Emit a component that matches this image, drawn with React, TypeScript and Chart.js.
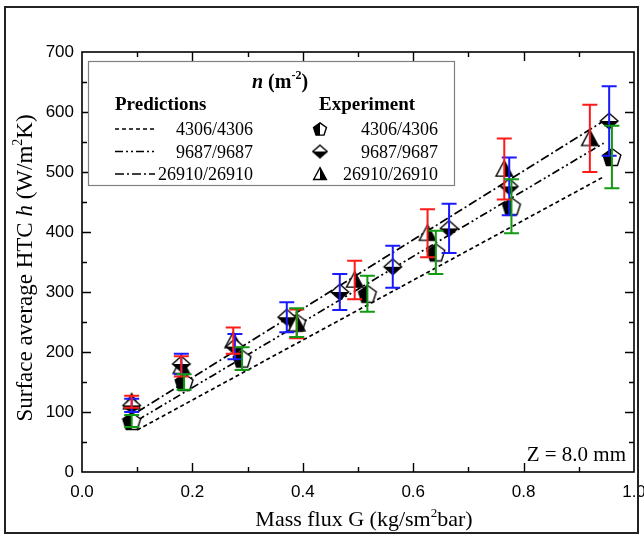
import React, { useEffect, useRef } from 'react';
import { Chart, registerables } from 'chart.js';

Chart.register(...registerables);

// ---- Data ----
const G_4306 = [0.09, 0.185, 0.29, 0.389, 0.517, 0.641, 0.778, 0.96];
const H_4306 = [85, 150, 189, 249, 297, 366, 443, 525];
const E_4306 = [10, 13, 19, 24, 30, 36, 45, 52];

const G_9687 = [0.09, 0.18, 0.277, 0.371, 0.467, 0.563, 0.665, 0.774, 0.955];
const H_9687 = [111, 180, 209, 258, 300, 342, 406, 476, 585];
const E_9687 = [11, 17, 21, 25, 30, 35, 41, 48, 58];

const G_26910 = [0.09, 0.18, 0.274, 0.389, 0.494, 0.626, 0.765, 0.92];
const H_26910 = [117, 176, 219, 247, 320, 398, 505, 556];
const E_26910 = [10, 17, 22, 24, 32, 40, 51, 56];

const PRED_G = [0.1, 0.945];
const PRED_4306 = [70, 492];
const PRED_9687 = [86, 548];
const PRED_26910 = [100, 585];

const SERIES_LABELS = ['4306/4306', '9687/9687', '26910/26910'];
const X_TITLE = ['Mass flux G (kg/sm', '2', 'bar)'];
const Y_TITLE = ['Surface average HTC ', 'h', ' (W/m', '2', 'K)'];
const ANNOTATION = 'Z = 8.0 mm';

const SERIF = '"Liberation Serif", "Times New Roman", "DejaVu Serif", serif';
const SANS = '"Liberation Sans", Arial, "DejaVu Sans", sans-serif';

const RED = '#ff1a1a';
const BLUE = '#1a1aff';
const GREEN = '#129a12';

const DASH_4306 = [4, 3];
const DASH_9687 = [8, 3, 2, 3, 2, 3];
const DASH_26910 = [9, 3, 2, 3];

function pts(xs: number[], ys: number[]) {
  return xs.map((x, i) => ({ x, y: ys[i] }));
}

function makeMarker(kind: string, k = 1): HTMLCanvasElement {
  const s = 24;
  const c = document.createElement('canvas');
  c.width = s;
  c.height = s;
  const ctx = c.getContext('2d')!;
  const cx = s / 2;
  const cy = s / 2;
  let p: number[][] = [];
  if (kind === 'pentagon') {
    const r = 8.5 * k;
    for (let i = 0; i < 5; i++) {
      const a = (-90 + 72 * i) * Math.PI / 180;
      p.push([cx + r * Math.cos(a), cy + 0.8 * k + r * Math.sin(a)]);
    }
  } else if (kind === 'diamond') {
    p = [[cx, cy - 7 * k], [cx + 8 * k, cy], [cx, cy + 7 * k], [cx - 8 * k, cy]];
  } else {
    p = [[cx, cy - 7.5 * k], [cx + 7.5 * k, cy + 6.5 * k], [cx - 7.5 * k, cy + 6.5 * k]];
  }
  const path = () => {
    ctx.beginPath();
    p.forEach((q, i) => (i ? ctx.lineTo(q[0], q[1]) : ctx.moveTo(q[0], q[1])));
    ctx.closePath();
  };
  path();
  ctx.fillStyle = '#fff';
  ctx.fill();
  ctx.save();
  ctx.beginPath();
  if (kind === 'pentagon') ctx.rect(0, 0, cx, s);
  else if (kind === 'diamond') ctx.rect(0, cy, s, s);
  else ctx.rect(cx, 0, s, s);
  ctx.clip();
  path();
  ctx.fillStyle = '#000';
  ctx.fill();
  ctx.restore();
  path();
  ctx.lineWidth = 1.4;
  ctx.strokeStyle = '#000';
  ctx.lineJoin = 'miter';
  ctx.stroke();
  return c;
}

type Seg = { t: string; font: string; dy?: number };

function drawRich(ctx: CanvasRenderingContext2D, segs: Seg[], x: number, y: number, align: string) {
  let total = 0;
  const widths = segs.map((s) => {
    ctx.font = s.font;
    const w = ctx.measureText(s.t).width;
    total += w;
    return w;
  });
  let cx = align === 'center' ? x - total / 2 : align === 'right' ? x - total : x;
  ctx.textAlign = 'left';
  ctx.textBaseline = 'alphabetic';
  segs.forEach((s, i) => {
    ctx.font = s.font;
    ctx.fillText(s.t, cx, y + (s.dy || 0));
    cx += widths[i];
  });
}

export default function App() {
  const ref = useRef<HTMLCanvasElement>(null);

  useEffect(() => {
    document.body.style.margin = '0';
    const canvas = ref.current!;

    const mPent = makeMarker('pentagon', 1.1);
    const mDia = makeMarker('diamond', 1.1);
    const mTri = makeMarker('triangle', 1.1);
    const lPent = makeMarker('pentagon', 0.8);
    const lDia = makeMarker('diamond', 0.9);
    const lTri = makeMarker('triangle', 0.85);

    const errorBars = {
      id: 'errorBars',
      afterDatasetsDraw(chart: any) {
        const ctx = chart.ctx as CanvasRenderingContext2D;
        const ys = chart.scales.y;
        chart.data.datasets.forEach((ds: any, i: number) => {
          if (!ds.errors) return;
          const meta = chart.getDatasetMeta(i);
          ctx.save();
          ctx.strokeStyle = ds.errColor;
          ctx.lineWidth = 2;
          meta.data.forEach((pt: any, j: number) => {
            const v = ds.data[j].y;
            const e = ds.errors[j];
            const yt = ys.getPixelForValue(v + e);
            const yb = ys.getPixelForValue(v - e);
            const x = pt.x;
            ctx.beginPath();
            ctx.moveTo(x, yt);
            ctx.lineTo(x, yb);
            ctx.moveTo(x - 7.5, yt);
            ctx.lineTo(x + 7.5, yt);
            ctx.moveTo(x - 7.5, yb);
            ctx.lineTo(x + 7.5, yb);
            ctx.stroke();
          });
          ctx.restore();
        });
      },
    };

    const decor = {
      id: 'decor',
      beforeDraw(chart: any) {
        const ctx = chart.ctx as CanvasRenderingContext2D;
        ctx.save();
        ctx.fillStyle = '#fff';
        ctx.fillRect(0, 0, chart.width, chart.height);
        ctx.restore();
      },
      afterDraw(chart: any) {
        const ctx = chart.ctx as CanvasRenderingContext2D;
        const a = chart.chartArea;
        const xs = chart.scales.x;
        const ys = chart.scales.y;
        ctx.save();

        // axis box
        ctx.strokeStyle = '#000';
        ctx.lineWidth = 1.6;
        ctx.strokeRect(a.left, a.top, a.right - a.left, a.bottom - a.top);

        // inward ticks on all four sides
        ctx.lineWidth = 1.4;
        ctx.beginPath();
        xs.ticks.forEach((t: any) => {
          if (t.value <= xs.min + 1e-9 || t.value >= xs.max - 1e-9) return;
          const major = Math.round(t.value * 10) % 2 === 0;
          const len = major ? 9 : 5;
          const px = Math.round(xs.getPixelForValue(t.value)) + 0.5;
          ctx.moveTo(px, a.bottom);
          ctx.lineTo(px, a.bottom - len);
          ctx.moveTo(px, a.top);
          ctx.lineTo(px, a.top + len);
        });
        ys.ticks.forEach((t: any) => {
          if (t.value <= ys.min || t.value >= ys.max) return;
          const major = t.value % 100 === 0;
          const len = major ? 9 : 5;
          const py = Math.round(ys.getPixelForValue(t.value)) + 0.5;
          ctx.moveTo(a.left, py);
          ctx.lineTo(a.left + len, py);
          ctx.moveTo(a.right, py);
          ctx.lineTo(a.right - len, py);
        });
        ctx.stroke();

        // outer frame
        ctx.strokeStyle = '#222';
        ctx.lineWidth = 2;
        ctx.strokeRect(5, 7, 633, 526);

        ctx.fillStyle = '#000';
        // x title
        drawRich(ctx, [
          { t: X_TITLE[0], font: `22px ${SERIF}` },
          { t: X_TITLE[1], font: `13px ${SERIF}`, dy: -9 },
          { t: X_TITLE[2], font: `22px ${SERIF}` },
        ], (a.left + a.right) / 2 + 6, 526, 'center');

        // y title
        ctx.save();
        ctx.translate(32, 268);
        ctx.rotate(-Math.PI / 2);
        drawRich(ctx, [
          { t: Y_TITLE[0], font: `23px ${SERIF}` },
          { t: Y_TITLE[1], font: `italic 23px ${SERIF}` },
          { t: Y_TITLE[2], font: `23px ${SERIF}` },
          { t: Y_TITLE[3], font: `14px ${SERIF}`, dy: -10 },
          { t: Y_TITLE[4], font: `23px ${SERIF}` },
        ], 0, 0, 'center');
        ctx.restore();

        // annotation
        ctx.font = `21px ${SERIF}`;
        ctx.textAlign = 'right';
        ctx.textBaseline = 'alphabetic';
        ctx.fillText(ANNOTATION, 626, 461);

        // legend box
        const lx = 88, ly = 61, lw = 366, lh = 124;
        ctx.fillStyle = '#fff';
        ctx.fillRect(lx, ly, lw, lh);
        ctx.strokeStyle = '#808080';
        ctx.lineWidth = 1.2;
        ctx.strokeRect(lx + 0.5, ly + 0.5, lw, lh);
        ctx.fillStyle = '#000';
        drawRich(ctx, [
          { t: 'n', font: `italic bold 20px ${SERIF}` },
          { t: ' (m', font: `bold 20px ${SERIF}` },
          { t: '-2', font: `bold 12px ${SERIF}`, dy: -9 },
          { t: ')', font: `bold 20px ${SERIF}` },
        ], 280, 88, 'center');
        ctx.font = `bold 19px ${SERIF}`;
        ctx.textAlign = 'left';
        ctx.fillText('Predictions', 115, 110);
        ctx.fillText('Experiment', 319, 110);

        const rows = [135, 157.5, 180];
        const dashes = [DASH_4306, DASH_9687, DASH_26910];
        const marks = [lPent, lDia, lTri];
        rows.forEach((by, i) => {
          ctx.save();
          ctx.strokeStyle = '#000';
          ctx.lineWidth = 1.6;
          ctx.setLineDash(dashes[i]);
          ctx.beginPath();
          ctx.moveTo(115, by - 6);
          ctx.lineTo(155, by - 6);
          ctx.stroke();
          ctx.restore();
          ctx.font = `18px ${SERIF}`;
          ctx.textAlign = 'right';
          ctx.fillStyle = '#000';
          ctx.fillText(SERIES_LABELS[i], 253, by);
          ctx.fillText(SERIES_LABELS[i], 438, by);
          const m = marks[i];
          ctx.drawImage(m, 320 - m.width / 2, by - 6 - m.height / 2);
        });

        ctx.restore();
      },
    };

    const chart = new Chart(canvas, {
      type: 'scatter',
      data: {
        datasets: [
          {
            label: SERIES_LABELS[1],
            data: pts(G_9687, H_9687),
            pointStyle: mDia,
            pointRadius: 8,
            errors: E_9687,
            errColor: BLUE,
          } as any,
          {
            label: SERIES_LABELS[2],
            data: pts(G_26910, H_26910),
            pointStyle: mTri,
            pointRadius: 8,
            errors: E_26910,
            errColor: RED,
          } as any,
          {
            label: SERIES_LABELS[0],
            data: pts(G_4306, H_4306),
            pointStyle: mPent,
            pointRadius: 8,
            errors: E_4306,
            errColor: GREEN,
          } as any,
          {
            type: 'line',
            label: 'pred ' + SERIES_LABELS[0],
            data: pts(PRED_G, PRED_4306),
            showLine: true,
            borderColor: '#000',
            borderWidth: 1.7,
            borderDash: DASH_4306,
            pointRadius: 0,
            fill: false,
          },
          {
            type: 'line',
            label: 'pred ' + SERIES_LABELS[1],
            data: pts(PRED_G, PRED_9687),
            showLine: true,
            borderColor: '#000',
            borderWidth: 1.7,
            borderDash: DASH_9687,
            pointRadius: 0,
            fill: false,
          },
          {
            type: 'line',
            label: 'pred ' + SERIES_LABELS[2],
            data: pts(PRED_G, PRED_26910),
            showLine: true,
            borderColor: '#000',
            borderWidth: 1.7,
            borderDash: DASH_26910,
            pointRadius: 0,
            fill: false,
          },
        ],
      },
      options: {
        animation: false,
        responsive: false,
        devicePixelRatio: 1,
        layout: { padding: { left: 0, top: 52, right: 10, bottom: 0 } },
        plugins: { legend: { display: false }, tooltip: { enabled: false } },
        scales: {
          x: {
            type: 'linear',
            min: 0,
            max: 1,
            grid: { display: false, drawTicks: false },
            border: { display: false },
            ticks: {
              stepSize: 0.1,
              autoSkip: false,
              maxRotation: 0,
              padding: 10,
              color: '#000',
              font: { family: SANS, size: 17 },
              callback: (v: any) => {
                const k = Math.round(Number(v) * 10);
                return k % 2 === 0 ? (k / 10).toFixed(1) : '';
              },
            },
            afterFit: (s: any) => {
              s.height = 64;
              s.paddingLeft = 0;
              s.paddingRight = 0;
            },
          },
          y: {
            type: 'linear',
            min: 0,
            max: 700,
            grid: { display: false, drawTicks: false },
            border: { display: false },
            ticks: {
              stepSize: 50,
              autoSkip: false,
              padding: 8,
              color: '#000',
              font: { family: SANS, size: 17 },
              callback: (v: any) => (Number(v) % 100 === 0 ? String(v) : ''),
            },
            afterFit: (s: any) => {
              s.width = 82;
              s.paddingTop = 0;
              s.paddingBottom = 0;
            },
          },
        },
      },
      plugins: [errorBars, decor],
    } as any);

    return () => chart.destroy();
  }, []);

  return (
    <div style={{ position: 'fixed', left: 0, top: 0, width: 644, height: 536, background: '#fff' }}>
      <canvas ref={ref} width={644} height={536} style={{ display: 'block' }} />
    </div>
  );
}
